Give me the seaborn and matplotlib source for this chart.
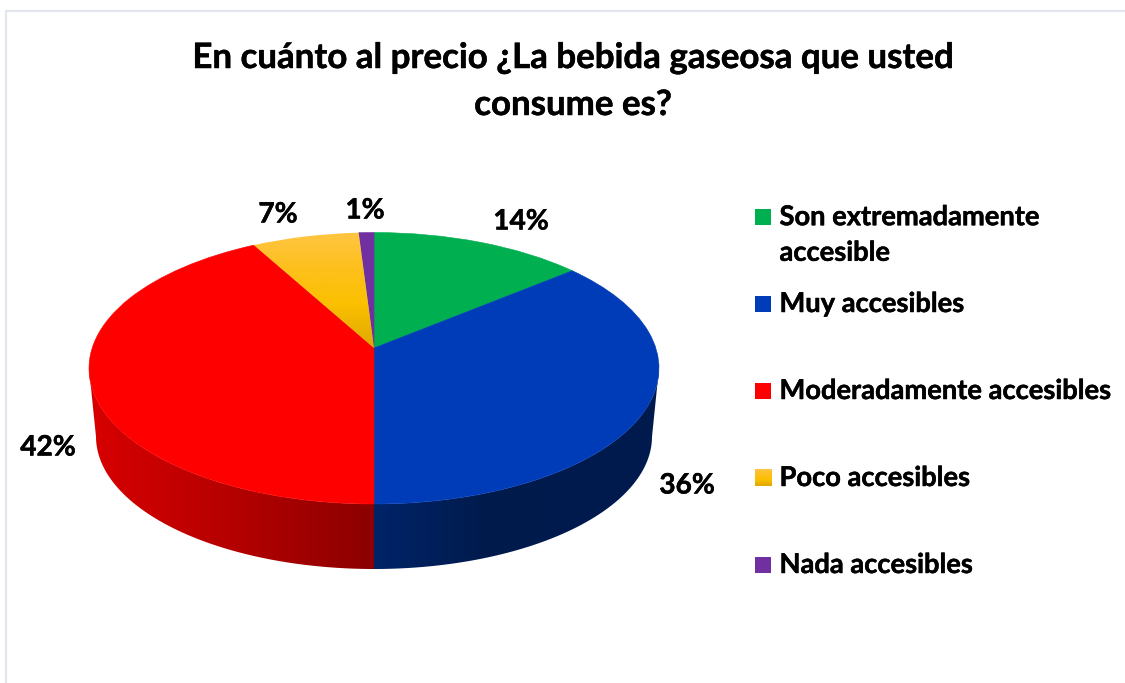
import numpy as np
import seaborn as sns
import matplotlib
matplotlib.use("Agg")
import matplotlib.pyplot as plt
import matplotlib.patheffects as pe
from matplotlib.colors import LinearSegmentedColormap
from matplotlib.patches import PathPatch, Rectangle
from matplotlib.path import Path
from matplotlib.transforms import Transform

title_lines = ["En cuánto al precio ¿La bebida gaseosa que usted", "consume es?"]
categories = ["Son extremadamente\naccesible", "Muy accesibles",
              "Moderadamente accesibles", "Poco accesibles", "Nada accesibles"]
shares = [14, 36, 42, 7, 1]

GREEN, BLUE, RED, AMBER, PURPLE = "#00AF50", "#003CB8", "#FF0000", "#FFC000", "#7030A0"
slice_colors = [GREEN, BLUE, RED, AMBER, PURPLE]

WIDTH, HEIGHT = 1125, 683
LEGEND_SIZE = 19.65
LABEL_SIZE = 20.2
TITLE_SIZE = 25.1
HEAVY = [pe.withStroke(linewidth=0.35, foreground="black")]


class DiscProjection(Transform):
    """Projects the unit pie disc onto a tilted ellipse, in pixel-like axes units."""
    input_dims = 2
    output_dims = 2
    is_separable = False
    has_inverse = False

    def __init__(self, cx, cy, up, down, half_width):
        super().__init__()
        self.cx, self.cy = cx, cy
        self.c = (down - up) / (down + up)
        self.a = up * (1 + self.c)
        self.b = half_width * np.sqrt(1 - self.c ** 2)

    def transform_non_affine(self, values):
        values = np.asarray(values, dtype=float)
        d = 1 + self.c * values[:, 1]
        return np.column_stack([self.cx + self.b * values[:, 0] / d,
                                self.cy - self.a * values[:, 1] / d])


sns.set_theme(style="white")
plt.rcParams["font.family"] = ["Lato", "DejaVu Sans"]

fig = plt.figure(figsize=(WIDTH / 100, HEIGHT / 100), dpi=100, facecolor="white")
ax = fig.add_axes([0, 0, 1, 1])

top_face = DiscProjection(374, 348, 115.5, 156, 285)
base_rim = DiscProjection(374, 417, 113, 152, 278)

# Top face of the disc
wedges, _ = ax.pie(shares, colors=slice_colors, startangle=90, counterclock=False,
                   wedgeprops={"linewidth": 0.4, "zorder": 3})
for wedge, color in zip(wedges, slice_colors):
    wedge.set_edgecolor(color)
    wedge.set_transform(top_face + ax.transData)

ax.set_aspect("auto")

# Amber slice carries a vertical shade
amber_map = LinearSegmentedColormap.from_list(
    "amber", [(0, "#FFC542"), (0.3, "#FDC01E"), (0.62, "#FBC000"), (1, "#DFA800")])
amber_wedge = wedges[3]
amber_wedge.set_facecolor("none")
amber_wedge.set_edgecolor("none")
amber_box = top_face.transform(amber_wedge.get_path().vertices)
amber_img = ax.imshow(np.linspace(0, 1, 256)[:, None], cmap=amber_map, aspect="auto", zorder=3,
                      extent=(amber_box[:, 0].min(), amber_box[:, 0].max(),
                              amber_box[:, 1].max(), amber_box[:, 1].min()),
                      origin="upper")
amber_img.set_clip_path(amber_wedge)

# Side walls of the two front slices, limited to the arc that faces the viewer
side_maps = {
    1: LinearSegmentedColormap.from_list(
        "blue_side", [(0, "#002468"), (0.4, "#001A4C"), (1, "#001B4F")]),
    2: LinearSegmentedColormap.from_list(
        "red_side", [(0, "#D80000"), (0.5, "#B50000"), (1, "#8B0000")]),
}
edges = np.cumsum([0] + shares) / sum(shares) * 2 * np.pi
front_start = np.arccos(-top_face.c)
front_end = 2 * np.pi - front_start
for idx, cmap in side_maps.items():
    angles = np.linspace(max(edges[idx], front_start), min(edges[idx + 1], front_end), 300)
    rim = np.column_stack([np.sin(angles), np.cos(angles)])
    outline = np.vstack([top_face.transform(rim), base_rim.transform(rim)[::-1]])
    wall = PathPatch(Path(np.vstack([outline, outline[0]]), closed=True), facecolor="none",
                     edgecolor="none", transform=ax.transData)
    ax.add_patch(wall)
    xs = outline[:, 0]
    gradient = np.linspace(0, 1, 256)[None, :]
    img = ax.imshow(gradient, cmap=cmap, aspect="auto", zorder=1,
                    extent=(xs.min(), xs.max(), outline[:, 1].max(), outline[:, 1].min()))
    img.set_clip_path(wall)

ax.set_xlim(0, WIDTH)
ax.set_ylim(HEIGHT, 0)

# Chart frame (open at the bottom and right)
ax.plot([6, 6, WIDTH], [HEIGHT, 11, 11], color="#E3E6EF", lw=1.6, zorder=0.5, solid_joinstyle="miter")

# Title
title_y = [58, 105]
for line, y in zip(title_lines, title_y):
    ax.text(573, y, line, ha="center", va="center", fontsize=TITLE_SIZE,
            fontweight="bold", color="black", path_effects=HEAVY)

# Data labels
label_xy = [(521, 221.5), (687, 485.5), (48, 447.5), (278, 214.5), (365, 210.5)]
for share, (x, y) in zip(shares, label_xy):
    ax.text(x, y, f"{share}%", ha="center", va="center", fontsize=LABEL_SIZE,
            fontweight="bold", color="black", path_effects=HEAVY)

# Legend
legend_y = [217, 304, 391, 478, 565]
for i, (name, color, y) in enumerate(zip(categories, slice_colors, legend_y)):
    if i == 3:
        ax.imshow(np.linspace(0, 1, 64)[:, None], cmap=amber_map, aspect="auto",
                  extent=(755, 772, y + 8.5, y - 8.5), zorder=3)
    else:
        ax.add_patch(Rectangle((755, y - 8), 16, 16, facecolor=color, edgecolor="none", zorder=3))
    if i == 0:
        ax.text(779.5, 235, name, ha="left", va="center", fontsize=LEGEND_SIZE, fontweight="bold",
                color="black", linespacing=1.58, path_effects=HEAVY)
    else:
        ax.text(779.5, y, name, ha="left", va="center", fontsize=LEGEND_SIZE,
                fontweight="bold", color="black", path_effects=HEAVY)

ax.set_xlim(0, WIDTH)
ax.set_ylim(HEIGHT, 0)
fig.savefig("out.png", dpi=100, facecolor="white")
